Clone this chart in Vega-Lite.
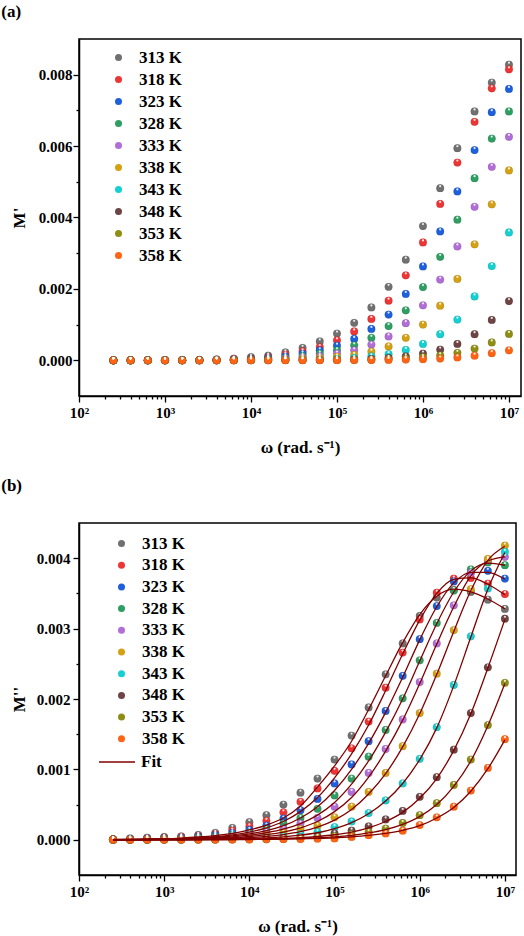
{
"$schema":"https://vega.github.io/schema/vega-lite/v6.json",
"background":"white",
"padding":{"left":0,"top":2,"right":2,"bottom":2},
"bounds":"flush",
"spacing":127,
"resolve":{"scale":{"color":"independent","stroke":"independent"},"legend":{"color":"independent","stroke":"independent"}},
"config":{
 "font":"Liberation Serif",
 "view":{"stroke":"black","strokeWidth":1.5},
 "axis":{"grid":false,"labelFont":"Liberation Serif","labelFontWeight":"bold","labelFontSize":15,"labelColor":"black","titleFont":"Liberation Serif","titleFontWeight":"bold","titleFontSize":17,"titleColor":"black","domainColor":"black","domainWidth":1.5,"tickColor":"black","tickWidth":1.3,"labelOverlap":false,"labelFlush":false},
 "legend":{"labelFont":"Liberation Serif","labelFontWeight":"bold","labelFontSize":17,"labelColor":"black","padding":0,"rowPadding":4},
 "title":{"font":"Liberation Serif","fontWeight":"bold","fontSize":17,"color":"black","anchor":"start","frame":"bounds"}
},
"datasets":{
"mp":[
{"w":251.2,"T":"313 K","v":0.001e-3},{"w":398.1,"T":"313 K","v":0.002e-3},{"w":631,"T":"313 K","v":0.003e-3},{"w":1000,"T":"313 K","v":0.004e-3},{"w":1585,"T":"313 K","v":0.006e-3},{"w":2512,"T":"313 K","v":0.01e-3},{"w":3981,"T":"313 K","v":0.025e-3},{"w":6310,"T":"313 K","v":0.05e-3},{"w":1e4,"T":"313 K","v":0.09e-3},{"w":15850,"T":"313 K","v":0.13e-3},{"w":25120,"T":"313 K","v":0.22e-3},{"w":39810,"T":"313 K","v":0.35e-3},{"w":63100,"T":"313 K","v":0.53e-3},{"w":1e5,"T":"313 K","v":0.75e-3},{"w":158500,"T":"313 K","v":1.05e-3},{"w":251200,"T":"313 K","v":1.48e-3},{"w":398100,"T":"313 K","v":2.06e-3},{"w":631000,"T":"313 K","v":2.82e-3},{"w":1e6,"T":"313 K","v":3.76e-3},{"w":1585000,"T":"313 K","v":4.82e-3},{"w":2512000,"T":"313 K","v":5.94e-3},{"w":3981000,"T":"313 K","v":6.97e-3},{"w":6310000,"T":"313 K","v":7.78e-3},{"w":1e7,"T":"313 K","v":8.28e-3},
{"w":251.2,"T":"318 K","v":0.001e-3},{"w":398.1,"T":"318 K","v":0.001e-3},{"w":631,"T":"318 K","v":0.002e-3},{"w":1000,"T":"318 K","v":0.003e-3},{"w":1585,"T":"318 K","v":0.004e-3},{"w":2512,"T":"318 K","v":0.007e-3},{"w":3981,"T":"318 K","v":0.015e-3},{"w":6310,"T":"318 K","v":0.03e-3},{"w":1e4,"T":"318 K","v":0.05e-3},{"w":15850,"T":"318 K","v":0.09e-3},{"w":25120,"T":"318 K","v":0.16e-3},{"w":39810,"T":"318 K","v":0.25e-3},{"w":63100,"T":"318 K","v":0.37e-3},{"w":1e5,"T":"318 K","v":0.56e-3},{"w":158500,"T":"318 K","v":0.81e-3},{"w":251200,"T":"318 K","v":1.16e-3},{"w":398100,"T":"318 K","v":1.67e-3},{"w":631000,"T":"318 K","v":2.38e-3},{"w":1e6,"T":"318 K","v":3.30e-3},{"w":1585000,"T":"318 K","v":4.38e-3},{"w":2512000,"T":"318 K","v":5.54e-3},{"w":3981000,"T":"318 K","v":6.68e-3},{"w":6310000,"T":"318 K","v":7.62e-3},{"w":1e7,"T":"318 K","v":8.15e-3},
{"w":251.2,"T":"323 K","v":0},{"w":398.1,"T":"323 K","v":0.001e-3},{"w":631,"T":"323 K","v":0.001e-3},{"w":1000,"T":"323 K","v":0.002e-3},{"w":1585,"T":"323 K","v":0.003e-3},{"w":2512,"T":"323 K","v":0.005e-3},{"w":3981,"T":"323 K","v":0.01e-3},{"w":6310,"T":"323 K","v":0.018e-3},{"w":1e4,"T":"323 K","v":0.033e-3},{"w":15850,"T":"323 K","v":0.06e-3},{"w":25120,"T":"323 K","v":0.11e-3},{"w":39810,"T":"323 K","v":0.19e-3},{"w":63100,"T":"323 K","v":0.28e-3},{"w":1e5,"T":"323 K","v":0.41e-3},{"w":158500,"T":"323 K","v":0.60e-3},{"w":251200,"T":"323 K","v":0.88e-3},{"w":398100,"T":"323 K","v":1.28e-3},{"w":631000,"T":"323 K","v":1.86e-3},{"w":1e6,"T":"323 K","v":2.63e-3},{"w":1585000,"T":"323 K","v":3.61e-3},{"w":2512000,"T":"323 K","v":4.73e-3},{"w":3981000,"T":"323 K","v":5.89e-3},{"w":6310000,"T":"323 K","v":6.95e-3},{"w":1e7,"T":"323 K","v":7.60e-3},
{"w":251.2,"T":"328 K","v":0},{"w":398.1,"T":"328 K","v":0.001e-3},{"w":631,"T":"328 K","v":0.001e-3},{"w":1000,"T":"328 K","v":0.001e-3},{"w":1585,"T":"328 K","v":0.002e-3},{"w":2512,"T":"328 K","v":0.004e-3},{"w":3981,"T":"328 K","v":0.007e-3},{"w":6310,"T":"328 K","v":0.012e-3},{"w":1e4,"T":"328 K","v":0.022e-3},{"w":15850,"T":"328 K","v":0.04e-3},{"w":25120,"T":"328 K","v":0.07e-3},{"w":39810,"T":"328 K","v":0.12e-3},{"w":63100,"T":"328 K","v":0.19e-3},{"w":1e5,"T":"328 K","v":0.28e-3},{"w":158500,"T":"328 K","v":0.42e-3},{"w":251200,"T":"328 K","v":0.63e-3},{"w":398100,"T":"328 K","v":0.96e-3},{"w":631000,"T":"328 K","v":1.40e-3},{"w":1e6,"T":"328 K","v":2.05e-3},{"w":1585000,"T":"328 K","v":2.90e-3},{"w":2512000,"T":"328 K","v":3.94e-3},{"w":3981000,"T":"328 K","v":5.10e-3},{"w":6310000,"T":"328 K","v":6.21e-3},{"w":1e7,"T":"328 K","v":6.97e-3},
{"w":251.2,"T":"333 K","v":0},{"w":398.1,"T":"333 K","v":0},{"w":631,"T":"333 K","v":0.001e-3},{"w":1000,"T":"333 K","v":0.001e-3},{"w":1585,"T":"333 K","v":0.002e-3},{"w":2512,"T":"333 K","v":0.003e-3},{"w":3981,"T":"333 K","v":0.005e-3},{"w":6310,"T":"333 K","v":0.008e-3},{"w":1e4,"T":"333 K","v":0.015e-3},{"w":15850,"T":"333 K","v":0.025e-3},{"w":25120,"T":"333 K","v":0.045e-3},{"w":39810,"T":"333 K","v":0.08e-3},{"w":63100,"T":"333 K","v":0.12e-3},{"w":1e5,"T":"333 K","v":0.19e-3},{"w":158500,"T":"333 K","v":0.28e-3},{"w":251200,"T":"333 K","v":0.44e-3},{"w":398100,"T":"333 K","v":0.67e-3},{"w":631000,"T":"333 K","v":1.04e-3},{"w":1e6,"T":"333 K","v":1.54e-3},{"w":1585000,"T":"333 K","v":2.26e-3},{"w":2512000,"T":"333 K","v":3.19e-3},{"w":3981000,"T":"333 K","v":4.30e-3},{"w":6310000,"T":"333 K","v":5.42e-3},{"w":1e7,"T":"333 K","v":6.26e-3},
{"w":251.2,"T":"338 K","v":0},{"w":398.1,"T":"338 K","v":0},{"w":631,"T":"338 K","v":0},{"w":1000,"T":"338 K","v":0.001e-3},{"w":1585,"T":"338 K","v":0.001e-3},{"w":2512,"T":"338 K","v":0.002e-3},{"w":3981,"T":"338 K","v":0.003e-3},{"w":6310,"T":"338 K","v":0.005e-3},{"w":1e4,"T":"338 K","v":0.009e-3},{"w":15850,"T":"338 K","v":0.015e-3},{"w":25120,"T":"338 K","v":0.025e-3},{"w":39810,"T":"338 K","v":0.045e-3},{"w":63100,"T":"338 K","v":0.07e-3},{"w":1e5,"T":"338 K","v":0.10e-3},{"w":158500,"T":"338 K","v":0.15e-3},{"w":251200,"T":"338 K","v":0.24e-3},{"w":398100,"T":"338 K","v":0.39e-3},{"w":631000,"T":"338 K","v":0.63e-3},{"w":1e6,"T":"338 K","v":1.00e-3},{"w":1585000,"T":"338 K","v":1.53e-3},{"w":2512000,"T":"338 K","v":2.28e-3},{"w":3981000,"T":"338 K","v":3.25e-3},{"w":6310000,"T":"338 K","v":4.37e-3},{"w":1e7,"T":"338 K","v":5.32e-3},
{"w":251.2,"T":"343 K","v":0},{"w":398.1,"T":"343 K","v":0},{"w":631,"T":"343 K","v":0},{"w":1000,"T":"343 K","v":0},{"w":1585,"T":"343 K","v":0.001e-3},{"w":2512,"T":"343 K","v":0.001e-3},{"w":3981,"T":"343 K","v":0.002e-3},{"w":6310,"T":"343 K","v":0.003e-3},{"w":1e4,"T":"343 K","v":0.005e-3},{"w":15850,"T":"343 K","v":0.008e-3},{"w":25120,"T":"343 K","v":0.012e-3},{"w":39810,"T":"343 K","v":0.015e-3},{"w":63100,"T":"343 K","v":0.025e-3},{"w":1e5,"T":"343 K","v":0.04e-3},{"w":158500,"T":"343 K","v":0.07e-3},{"w":251200,"T":"343 K","v":0.11e-3},{"w":398100,"T":"343 K","v":0.17e-3},{"w":631000,"T":"343 K","v":0.29e-3},{"w":1e6,"T":"343 K","v":0.46e-3},{"w":1585000,"T":"343 K","v":0.73e-3},{"w":2512000,"T":"343 K","v":1.14e-3},{"w":3981000,"T":"343 K","v":1.79e-3},{"w":6310000,"T":"343 K","v":2.64e-3},{"w":1e7,"T":"343 K","v":3.58e-3},
{"w":251.2,"T":"348 K","v":0},{"w":398.1,"T":"348 K","v":0},{"w":631,"T":"348 K","v":0},{"w":1000,"T":"348 K","v":0},{"w":1585,"T":"348 K","v":0},{"w":2512,"T":"348 K","v":0.001e-3},{"w":3981,"T":"348 K","v":0.001e-3},{"w":6310,"T":"348 K","v":0.002e-3},{"w":1e4,"T":"348 K","v":0.003e-3},{"w":15850,"T":"348 K","v":0.004e-3},{"w":25120,"T":"348 K","v":0.006e-3},{"w":39810,"T":"348 K","v":0.008e-3},{"w":63100,"T":"348 K","v":0.011e-3},{"w":1e5,"T":"348 K","v":0.015e-3},{"w":158500,"T":"348 K","v":0.025e-3},{"w":251200,"T":"348 K","v":0.04e-3},{"w":398100,"T":"348 K","v":0.07e-3},{"w":631000,"T":"348 K","v":0.11e-3},{"w":1e6,"T":"348 K","v":0.19e-3},{"w":1585000,"T":"348 K","v":0.30e-3},{"w":2512000,"T":"348 K","v":0.46e-3},{"w":3981000,"T":"348 K","v":0.73e-3},{"w":6310000,"T":"348 K","v":1.13e-3},{"w":1e7,"T":"348 K","v":1.66e-3},
{"w":251.2,"T":"353 K","v":0},{"w":398.1,"T":"353 K","v":0},{"w":631,"T":"353 K","v":0},{"w":1000,"T":"353 K","v":0},{"w":1585,"T":"353 K","v":0},{"w":2512,"T":"353 K","v":0},{"w":3981,"T":"353 K","v":0.001e-3},{"w":6310,"T":"353 K","v":0.001e-3},{"w":1e4,"T":"353 K","v":0.002e-3},{"w":15850,"T":"353 K","v":0.002e-3},{"w":25120,"T":"353 K","v":0.003e-3},{"w":39810,"T":"353 K","v":0.004e-3},{"w":63100,"T":"353 K","v":0.006e-3},{"w":1e5,"T":"353 K","v":0.008e-3},{"w":158500,"T":"353 K","v":0.011e-3},{"w":251200,"T":"353 K","v":0.015e-3},{"w":398100,"T":"353 K","v":0.03e-3},{"w":631000,"T":"353 K","v":0.05e-3},{"w":1e6,"T":"353 K","v":0.09e-3},{"w":1585000,"T":"353 K","v":0.14e-3},{"w":2512000,"T":"353 K","v":0.21e-3},{"w":3981000,"T":"353 K","v":0.33e-3},{"w":6310000,"T":"353 K","v":0.50e-3},{"w":1e7,"T":"353 K","v":0.74e-3},
{"w":251.2,"T":"358 K","v":0},{"w":398.1,"T":"358 K","v":0},{"w":631,"T":"358 K","v":0},{"w":1000,"T":"358 K","v":0},{"w":1585,"T":"358 K","v":0},{"w":2512,"T":"358 K","v":0},{"w":3981,"T":"358 K","v":0},{"w":6310,"T":"358 K","v":0.001e-3},{"w":1e4,"T":"358 K","v":0.001e-3},{"w":15850,"T":"358 K","v":0.001e-3},{"w":25120,"T":"358 K","v":0.002e-3},{"w":39810,"T":"358 K","v":0.002e-3},{"w":63100,"T":"358 K","v":0.003e-3},{"w":1e5,"T":"358 K","v":0.004e-3},{"w":158500,"T":"358 K","v":0.006e-3},{"w":251200,"T":"358 K","v":0.008e-3},{"w":398100,"T":"358 K","v":0.01e-3},{"w":631000,"T":"358 K","v":0.02e-3},{"w":1e6,"T":"358 K","v":0.03e-3},{"w":1585000,"T":"358 K","v":0.05e-3},{"w":2512000,"T":"358 K","v":0.08e-3},{"w":3981000,"T":"358 K","v":0.13e-3},{"w":6310000,"T":"358 K","v":0.20e-3},{"w":1e7,"T":"358 K","v":0.28e-3}
],
"mpp":[
{"w":251.2,"T":"313 K","v":0.01e-3},{"w":398.1,"T":"313 K","v":0.02e-3},{"w":631,"T":"313 K","v":0.03e-3},{"w":1000,"T":"313 K","v":0.04e-3},{"w":1585,"T":"313 K","v":0.05e-3},{"w":2512,"T":"313 K","v":0.07e-3},{"w":3981,"T":"313 K","v":0.10e-3},{"w":6310,"T":"313 K","v":0.17e-3},{"w":1e4,"T":"313 K","v":0.25e-3},{"w":15850,"T":"313 K","v":0.35e-3},{"w":25120,"T":"313 K","v":0.50e-3},{"w":39810,"T":"313 K","v":0.67e-3},{"w":63100,"T":"313 K","v":0.87e-3},{"w":1e5,"T":"313 K","v":1.14e-3},{"w":158500,"T":"313 K","v":1.48e-3},{"w":251200,"T":"313 K","v":1.88e-3},{"w":398100,"T":"313 K","v":2.35e-3},{"w":631000,"T":"313 K","v":2.79e-3},{"w":1e6,"T":"313 K","v":3.18e-3},{"w":1585000,"T":"313 K","v":3.44e-3},{"w":2512000,"T":"313 K","v":3.55e-3},{"w":3981000,"T":"313 K","v":3.52e-3},{"w":6310000,"T":"313 K","v":3.41e-3},{"w":1e7,"T":"313 K","v":3.28e-3},
{"w":251.2,"T":"318 K","v":0.005e-3},{"w":398.1,"T":"318 K","v":0.01e-3},{"w":631,"T":"318 K","v":0.02e-3},{"w":1000,"T":"318 K","v":0.03e-3},{"w":1585,"T":"318 K","v":0.04e-3},{"w":2512,"T":"318 K","v":0.055e-3},{"w":3981,"T":"318 K","v":0.08e-3},{"w":6310,"T":"318 K","v":0.13e-3},{"w":1e4,"T":"318 K","v":0.19e-3},{"w":15850,"T":"318 K","v":0.27e-3},{"w":25120,"T":"318 K","v":0.39e-3},{"w":39810,"T":"318 K","v":0.54e-3},{"w":63100,"T":"318 K","v":0.73e-3},{"w":1e5,"T":"318 K","v":0.98e-3},{"w":158500,"T":"318 K","v":1.30e-3},{"w":251200,"T":"318 K","v":1.68e-3},{"w":398100,"T":"318 K","v":2.16e-3},{"w":631000,"T":"318 K","v":2.66e-3},{"w":1e6,"T":"318 K","v":3.13e-3},{"w":1585000,"T":"318 K","v":3.51e-3},{"w":2512000,"T":"318 K","v":3.71e-3},{"w":3981000,"T":"318 K","v":3.72e-3},{"w":6310000,"T":"318 K","v":3.64e-3},{"w":1e7,"T":"318 K","v":3.49e-3},
{"w":251.2,"T":"323 K","v":0.005e-3},{"w":398.1,"T":"323 K","v":0.008e-3},{"w":631,"T":"323 K","v":0.015e-3},{"w":1000,"T":"323 K","v":0.02e-3},{"w":1585,"T":"323 K","v":0.03e-3},{"w":2512,"T":"323 K","v":0.045e-3},{"w":3981,"T":"323 K","v":0.065e-3},{"w":6310,"T":"323 K","v":0.10e-3},{"w":1e4,"T":"323 K","v":0.14e-3},{"w":15850,"T":"323 K","v":0.20e-3},{"w":25120,"T":"323 K","v":0.30e-3},{"w":39810,"T":"323 K","v":0.42e-3},{"w":63100,"T":"323 K","v":0.58e-3},{"w":1e5,"T":"323 K","v":0.80e-3},{"w":158500,"T":"323 K","v":1.07e-3},{"w":251200,"T":"323 K","v":1.40e-3},{"w":398100,"T":"323 K","v":1.83e-3},{"w":631000,"T":"323 K","v":2.33e-3},{"w":1e6,"T":"323 K","v":2.85e-3},{"w":1585000,"T":"323 K","v":3.32e-3},{"w":2512000,"T":"323 K","v":3.67e-3},{"w":3981000,"T":"323 K","v":3.80e-3},{"w":6310000,"T":"323 K","v":3.82e-3},{"w":1e7,"T":"323 K","v":3.71e-3},
{"w":251.2,"T":"328 K","v":0.004e-3},{"w":398.1,"T":"328 K","v":0.006e-3},{"w":631,"T":"328 K","v":0.01e-3},{"w":1000,"T":"328 K","v":0.015e-3},{"w":1585,"T":"328 K","v":0.02e-3},{"w":2512,"T":"328 K","v":0.03e-3},{"w":3981,"T":"328 K","v":0.045e-3},{"w":6310,"T":"328 K","v":0.07e-3},{"w":1e4,"T":"328 K","v":0.10e-3},{"w":15850,"T":"328 K","v":0.15e-3},{"w":25120,"T":"328 K","v":0.23e-3},{"w":39810,"T":"328 K","v":0.31e-3},{"w":63100,"T":"328 K","v":0.44e-3},{"w":1e5,"T":"328 K","v":0.63e-3},{"w":158500,"T":"328 K","v":0.87e-3},{"w":251200,"T":"328 K","v":1.18e-3},{"w":398100,"T":"328 K","v":1.56e-3},{"w":631000,"T":"328 K","v":2.01e-3},{"w":1e6,"T":"328 K","v":2.55e-3},{"w":1585000,"T":"328 K","v":3.08e-3},{"w":2512000,"T":"328 K","v":3.54e-3},{"w":3981000,"T":"328 K","v":3.84e-3},{"w":6310000,"T":"328 K","v":3.94e-3},{"w":1e7,"T":"328 K","v":3.90e-3},
{"w":251.2,"T":"333 K","v":0.003e-3},{"w":398.1,"T":"333 K","v":0.005e-3},{"w":631,"T":"333 K","v":0.008e-3},{"w":1000,"T":"333 K","v":0.01e-3},{"w":1585,"T":"333 K","v":0.015e-3},{"w":2512,"T":"333 K","v":0.02e-3},{"w":3981,"T":"333 K","v":0.03e-3},{"w":6310,"T":"333 K","v":0.05e-3},{"w":1e4,"T":"333 K","v":0.07e-3},{"w":15850,"T":"333 K","v":0.11e-3},{"w":25120,"T":"333 K","v":0.16e-3},{"w":39810,"T":"333 K","v":0.23e-3},{"w":63100,"T":"333 K","v":0.31e-3},{"w":1e5,"T":"333 K","v":0.47e-3},{"w":158500,"T":"333 K","v":0.68e-3},{"w":251200,"T":"333 K","v":0.95e-3},{"w":398100,"T":"333 K","v":1.29e-3},{"w":631000,"T":"333 K","v":1.71e-3},{"w":1e6,"T":"333 K","v":2.24e-3},{"w":1585000,"T":"333 K","v":2.79e-3},{"w":2512000,"T":"333 K","v":3.33e-3},{"w":3981000,"T":"333 K","v":3.79e-3},{"w":6310000,"T":"333 K","v":3.97e-3},{"w":1e7,"T":"333 K","v":4.02e-3},
{"w":251.2,"T":"338 K","v":0.002e-3},{"w":398.1,"T":"338 K","v":0.004e-3},{"w":631,"T":"338 K","v":0.006e-3},{"w":1000,"T":"338 K","v":0.008e-3},{"w":1585,"T":"338 K","v":0.01e-3},{"w":2512,"T":"338 K","v":0.015e-3},{"w":3981,"T":"338 K","v":0.02e-3},{"w":6310,"T":"338 K","v":0.03e-3},{"w":1e4,"T":"338 K","v":0.045e-3},{"w":15850,"T":"338 K","v":0.07e-3},{"w":25120,"T":"338 K","v":0.11e-3},{"w":39810,"T":"338 K","v":0.15e-3},{"w":63100,"T":"338 K","v":0.20e-3},{"w":1e5,"T":"338 K","v":0.32e-3},{"w":158500,"T":"338 K","v":0.47e-3},{"w":251200,"T":"338 K","v":0.68e-3},{"w":398100,"T":"338 K","v":0.95e-3},{"w":631000,"T":"338 K","v":1.33e-3},{"w":1e6,"T":"338 K","v":1.80e-3},{"w":1585000,"T":"338 K","v":2.36e-3},{"w":2512000,"T":"338 K","v":2.98e-3},{"w":3981000,"T":"338 K","v":3.56e-3},{"w":6310000,"T":"338 K","v":3.99e-3},{"w":1e7,"T":"338 K","v":4.18e-3},
{"w":251.2,"T":"343 K","v":0.002e-3},{"w":398.1,"T":"343 K","v":0.003e-3},{"w":631,"T":"343 K","v":0.004e-3},{"w":1000,"T":"343 K","v":0.005e-3},{"w":1585,"T":"343 K","v":0.006e-3},{"w":2512,"T":"343 K","v":0.008e-3},{"w":3981,"T":"343 K","v":0.01e-3},{"w":6310,"T":"343 K","v":0.015e-3},{"w":1e4,"T":"343 K","v":0.02e-3},{"w":15850,"T":"343 K","v":0.03e-3},{"w":25120,"T":"343 K","v":0.05e-3},{"w":39810,"T":"343 K","v":0.08e-3},{"w":63100,"T":"343 K","v":0.11e-3},{"w":1e5,"T":"343 K","v":0.18e-3},{"w":158500,"T":"343 K","v":0.26e-3},{"w":251200,"T":"343 K","v":0.38e-3},{"w":398100,"T":"343 K","v":0.56e-3},{"w":631000,"T":"343 K","v":0.80e-3},{"w":1e6,"T":"343 K","v":1.15e-3},{"w":1585000,"T":"343 K","v":1.60e-3},{"w":2512000,"T":"343 K","v":2.20e-3},{"w":3981000,"T":"343 K","v":2.89e-3},{"w":6310000,"T":"343 K","v":3.57e-3},{"w":1e7,"T":"343 K","v":4.09e-3},
{"w":251.2,"T":"348 K","v":0.001e-3},{"w":398.1,"T":"348 K","v":0.002e-3},{"w":631,"T":"348 K","v":0.002e-3},{"w":1000,"T":"348 K","v":0.003e-3},{"w":1585,"T":"348 K","v":0.004e-3},{"w":2512,"T":"348 K","v":0.005e-3},{"w":3981,"T":"348 K","v":0.006e-3},{"w":6310,"T":"348 K","v":0.008e-3},{"w":1e4,"T":"348 K","v":0.01e-3},{"w":15850,"T":"348 K","v":0.015e-3},{"w":25120,"T":"348 K","v":0.02e-3},{"w":39810,"T":"348 K","v":0.035e-3},{"w":63100,"T":"348 K","v":0.05e-3},{"w":1e5,"T":"348 K","v":0.09e-3},{"w":158500,"T":"348 K","v":0.13e-3},{"w":251200,"T":"348 K","v":0.19e-3},{"w":398100,"T":"348 K","v":0.29e-3},{"w":631000,"T":"348 K","v":0.41e-3},{"w":1e6,"T":"348 K","v":0.61e-3},{"w":1585000,"T":"348 K","v":0.89e-3},{"w":2512000,"T":"348 K","v":1.28e-3},{"w":3981000,"T":"348 K","v":1.80e-3},{"w":6310000,"T":"348 K","v":2.45e-3},{"w":1e7,"T":"348 K","v":3.14e-3},
{"w":251.2,"T":"353 K","v":0.001e-3},{"w":398.1,"T":"353 K","v":0.001e-3},{"w":631,"T":"353 K","v":0.002e-3},{"w":1000,"T":"353 K","v":0.002e-3},{"w":1585,"T":"353 K","v":0.003e-3},{"w":2512,"T":"353 K","v":0.003e-3},{"w":3981,"T":"353 K","v":0.004e-3},{"w":6310,"T":"353 K","v":0.005e-3},{"w":1e4,"T":"353 K","v":0.007e-3},{"w":15850,"T":"353 K","v":0.01e-3},{"w":25120,"T":"353 K","v":0.015e-3},{"w":39810,"T":"353 K","v":0.02e-3},{"w":63100,"T":"353 K","v":0.03e-3},{"w":1e5,"T":"353 K","v":0.05e-3},{"w":158500,"T":"353 K","v":0.08e-3},{"w":251200,"T":"353 K","v":0.11e-3},{"w":398100,"T":"353 K","v":0.16e-3},{"w":631000,"T":"353 K","v":0.24e-3},{"w":1e6,"T":"353 K","v":0.35e-3},{"w":1585000,"T":"353 K","v":0.52e-3},{"w":2512000,"T":"353 K","v":0.78e-3},{"w":3981000,"T":"353 K","v":1.14e-3},{"w":6310000,"T":"353 K","v":1.63e-3},{"w":1e7,"T":"353 K","v":2.23e-3},
{"w":251.2,"T":"358 K","v":0.001e-3},{"w":398.1,"T":"358 K","v":0.001e-3},{"w":631,"T":"358 K","v":0.001e-3},{"w":1000,"T":"358 K","v":0.002e-3},{"w":1585,"T":"358 K","v":0.002e-3},{"w":2512,"T":"358 K","v":0.002e-3},{"w":3981,"T":"358 K","v":0.003e-3},{"w":6310,"T":"358 K","v":0.004e-3},{"w":1e4,"T":"358 K","v":0.005e-3},{"w":15850,"T":"358 K","v":0.007e-3},{"w":25120,"T":"358 K","v":0.009e-3},{"w":39810,"T":"358 K","v":0.01e-3},{"w":63100,"T":"358 K","v":0.015e-3},{"w":1e5,"T":"358 K","v":0.02e-3},{"w":158500,"T":"358 K","v":0.04e-3},{"w":251200,"T":"358 K","v":0.065e-3},{"w":398100,"T":"358 K","v":0.09e-3},{"w":631000,"T":"358 K","v":0.13e-3},{"w":1e6,"T":"358 K","v":0.21e-3},{"w":1585000,"T":"358 K","v":0.32e-3},{"w":2512000,"T":"358 K","v":0.47e-3},{"w":3981000,"T":"358 K","v":0.70e-3},{"w":6310000,"T":"358 K","v":1.02e-3},{"w":1e7,"T":"358 K","v":1.43e-3}
],
"fit":[
{"w":251.2,"T":"313 K","v":0.004e-3},{"w":398.1,"T":"313 K","v":0.006e-3},{"w":631,"T":"313 K","v":0.01e-3},{"w":1000,"T":"313 K","v":0.015e-3},{"w":1585,"T":"313 K","v":0.025e-3},{"w":2512,"T":"313 K","v":0.04e-3},{"w":3981,"T":"313 K","v":0.06e-3},{"w":6310,"T":"313 K","v":0.09e-3},{"w":1e4,"T":"313 K","v":0.14e-3},{"w":15850,"T":"313 K","v":0.21e-3},{"w":25120,"T":"313 K","v":0.31e-3},{"w":39810,"T":"313 K","v":0.48e-3},{"w":63100,"T":"313 K","v":0.75e-3},{"w":1e5,"T":"313 K","v":1.05e-3},{"w":158500,"T":"313 K","v":1.40e-3},{"w":251200,"T":"313 K","v":1.85e-3},{"w":398100,"T":"313 K","v":2.33e-3},{"w":631000,"T":"313 K","v":2.80e-3},{"w":1e6,"T":"313 K","v":3.20e-3},{"w":1585000,"T":"313 K","v":3.46e-3},{"w":2512000,"T":"313 K","v":3.56e-3},{"w":3981000,"T":"313 K","v":3.52e-3},{"w":6310000,"T":"313 K","v":3.42e-3},{"w":1e7,"T":"313 K","v":3.28e-3},
{"w":251.2,"T":"318 K","v":0.003e-3},{"w":398.1,"T":"318 K","v":0.005e-3},{"w":631,"T":"318 K","v":0.008e-3},{"w":1000,"T":"318 K","v":0.012e-3},{"w":1585,"T":"318 K","v":0.02e-3},{"w":2512,"T":"318 K","v":0.03e-3},{"w":3981,"T":"318 K","v":0.045e-3},{"w":6310,"T":"318 K","v":0.07e-3},{"w":1e4,"T":"318 K","v":0.11e-3},{"w":15850,"T":"318 K","v":0.17e-3},{"w":25120,"T":"318 K","v":0.26e-3},{"w":39810,"T":"318 K","v":0.40e-3},{"w":63100,"T":"318 K","v":0.60e-3},{"w":1e5,"T":"318 K","v":0.88e-3},{"w":158500,"T":"318 K","v":1.22e-3},{"w":251200,"T":"318 K","v":1.63e-3},{"w":398100,"T":"318 K","v":2.12e-3},{"w":631000,"T":"318 K","v":2.64e-3},{"w":1e6,"T":"318 K","v":3.12e-3},{"w":1585000,"T":"318 K","v":3.50e-3},{"w":2512000,"T":"318 K","v":3.70e-3},{"w":3981000,"T":"318 K","v":3.72e-3},{"w":6310000,"T":"318 K","v":3.63e-3},{"w":1e7,"T":"318 K","v":3.48e-3},
{"w":251.2,"T":"323 K","v":0.002e-3},{"w":398.1,"T":"323 K","v":0.004e-3},{"w":631,"T":"323 K","v":0.006e-3},{"w":1000,"T":"323 K","v":0.01e-3},{"w":1585,"T":"323 K","v":0.015e-3},{"w":2512,"T":"323 K","v":0.022e-3},{"w":3981,"T":"323 K","v":0.035e-3},{"w":6310,"T":"323 K","v":0.055e-3},{"w":1e4,"T":"323 K","v":0.085e-3},{"w":15850,"T":"323 K","v":0.13e-3},{"w":25120,"T":"323 K","v":0.20e-3},{"w":39810,"T":"323 K","v":0.31e-3},{"w":63100,"T":"323 K","v":0.47e-3},{"w":1e5,"T":"323 K","v":0.70e-3},{"w":158500,"T":"323 K","v":1.00e-3},{"w":251200,"T":"323 K","v":1.37e-3},{"w":398100,"T":"323 K","v":1.81e-3},{"w":631000,"T":"323 K","v":2.31e-3},{"w":1e6,"T":"323 K","v":2.84e-3},{"w":1585000,"T":"323 K","v":3.31e-3},{"w":2512000,"T":"323 K","v":3.65e-3},{"w":3981000,"T":"323 K","v":3.80e-3},{"w":6310000,"T":"323 K","v":3.80e-3},{"w":1e7,"T":"323 K","v":3.70e-3},
{"w":251.2,"T":"328 K","v":0.002e-3},{"w":398.1,"T":"328 K","v":0.003e-3},{"w":631,"T":"328 K","v":0.005e-3},{"w":1000,"T":"328 K","v":0.008e-3},{"w":1585,"T":"328 K","v":0.012e-3},{"w":2512,"T":"328 K","v":0.018e-3},{"w":3981,"T":"328 K","v":0.027e-3},{"w":6310,"T":"328 K","v":0.042e-3},{"w":1e4,"T":"328 K","v":0.065e-3},{"w":15850,"T":"328 K","v":0.10e-3},{"w":25120,"T":"328 K","v":0.15e-3},{"w":39810,"T":"328 K","v":0.23e-3},{"w":63100,"T":"328 K","v":0.35e-3},{"w":1e5,"T":"328 K","v":0.53e-3},{"w":158500,"T":"328 K","v":0.79e-3},{"w":251200,"T":"328 K","v":1.12e-3},{"w":398100,"T":"328 K","v":1.53e-3},{"w":631000,"T":"328 K","v":2.00e-3},{"w":1e6,"T":"328 K","v":2.54e-3},{"w":1585000,"T":"328 K","v":3.07e-3},{"w":2512000,"T":"328 K","v":3.52e-3},{"w":3981000,"T":"328 K","v":3.82e-3},{"w":6310000,"T":"328 K","v":3.93e-3},{"w":1e7,"T":"328 K","v":3.90e-3},
{"w":251.2,"T":"333 K","v":0.001e-3},{"w":398.1,"T":"333 K","v":0.002e-3},{"w":631,"T":"333 K","v":0.004e-3},{"w":1000,"T":"333 K","v":0.006e-3},{"w":1585,"T":"333 K","v":0.009e-3},{"w":2512,"T":"333 K","v":0.013e-3},{"w":3981,"T":"333 K","v":0.02e-3},{"w":6310,"T":"333 K","v":0.03e-3},{"w":1e4,"T":"333 K","v":0.047e-3},{"w":15850,"T":"333 K","v":0.073e-3},{"w":25120,"T":"333 K","v":0.11e-3},{"w":39810,"T":"333 K","v":0.17e-3},{"w":63100,"T":"333 K","v":0.26e-3},{"w":1e5,"T":"333 K","v":0.40e-3},{"w":158500,"T":"333 K","v":0.60e-3},{"w":251200,"T":"333 K","v":0.89e-3},{"w":398100,"T":"333 K","v":1.26e-3},{"w":631000,"T":"333 K","v":1.70e-3},{"w":1e6,"T":"333 K","v":2.22e-3},{"w":1585000,"T":"333 K","v":2.78e-3},{"w":2512000,"T":"333 K","v":3.31e-3},{"w":3981000,"T":"333 K","v":3.75e-3},{"w":6310000,"T":"333 K","v":3.96e-3},{"w":1e7,"T":"333 K","v":4.02e-3},
{"w":251.2,"T":"338 K","v":0.001e-3},{"w":398.1,"T":"338 K","v":0.002e-3},{"w":631,"T":"338 K","v":0.003e-3},{"w":1000,"T":"338 K","v":0.004e-3},{"w":1585,"T":"338 K","v":0.006e-3},{"w":2512,"T":"338 K","v":0.009e-3},{"w":3981,"T":"338 K","v":0.013e-3},{"w":6310,"T":"338 K","v":0.02e-3},{"w":1e4,"T":"338 K","v":0.031e-3},{"w":15850,"T":"338 K","v":0.048e-3},{"w":25120,"T":"338 K","v":0.075e-3},{"w":39810,"T":"338 K","v":0.115e-3},{"w":63100,"T":"338 K","v":0.18e-3},{"w":1e5,"T":"338 K","v":0.28e-3},{"w":158500,"T":"338 K","v":0.43e-3},{"w":251200,"T":"338 K","v":0.65e-3},{"w":398100,"T":"338 K","v":0.94e-3},{"w":631000,"T":"338 K","v":1.32e-3},{"w":1e6,"T":"338 K","v":1.79e-3},{"w":1585000,"T":"338 K","v":2.35e-3},{"w":2512000,"T":"338 K","v":2.96e-3},{"w":3981000,"T":"338 K","v":3.54e-3},{"w":6310000,"T":"338 K","v":3.97e-3},{"w":1e7,"T":"338 K","v":4.17e-3},
{"w":251.2,"T":"343 K","v":0.001e-3},{"w":398.1,"T":"343 K","v":0.001e-3},{"w":631,"T":"343 K","v":0.002e-3},{"w":1000,"T":"343 K","v":0.003e-3},{"w":1585,"T":"343 K","v":0.004e-3},{"w":2512,"T":"343 K","v":0.005e-3},{"w":3981,"T":"343 K","v":0.008e-3},{"w":6310,"T":"343 K","v":0.012e-3},{"w":1e4,"T":"343 K","v":0.018e-3},{"w":15850,"T":"343 K","v":0.028e-3},{"w":25120,"T":"343 K","v":0.043e-3},{"w":39810,"T":"343 K","v":0.066e-3},{"w":63100,"T":"343 K","v":0.10e-3},{"w":1e5,"T":"343 K","v":0.16e-3},{"w":158500,"T":"343 K","v":0.245e-3},{"w":251200,"T":"343 K","v":0.37e-3},{"w":398100,"T":"343 K","v":0.55e-3},{"w":631000,"T":"343 K","v":0.80e-3},{"w":1e6,"T":"343 K","v":1.14e-3},{"w":1585000,"T":"343 K","v":1.59e-3},{"w":2512000,"T":"343 K","v":2.19e-3},{"w":3981000,"T":"343 K","v":2.88e-3},{"w":6310000,"T":"343 K","v":3.56e-3},{"w":1e7,"T":"343 K","v":4.08e-3},
{"w":251.2,"T":"348 K","v":0},{"w":398.1,"T":"348 K","v":0.001e-3},{"w":631,"T":"348 K","v":0.001e-3},{"w":1000,"T":"348 K","v":0.002e-3},{"w":1585,"T":"348 K","v":0.002e-3},{"w":2512,"T":"348 K","v":0.003e-3},{"w":3981,"T":"348 K","v":0.004e-3},{"w":6310,"T":"348 K","v":0.006e-3},{"w":1e4,"T":"348 K","v":0.009e-3},{"w":15850,"T":"348 K","v":0.013e-3},{"w":25120,"T":"348 K","v":0.02e-3},{"w":39810,"T":"348 K","v":0.03e-3},{"w":63100,"T":"348 K","v":0.047e-3},{"w":1e5,"T":"348 K","v":0.072e-3},{"w":158500,"T":"348 K","v":0.11e-3},{"w":251200,"T":"348 K","v":0.17e-3},{"w":398100,"T":"348 K","v":0.26e-3},{"w":631000,"T":"348 K","v":0.39e-3},{"w":1e6,"T":"348 K","v":0.59e-3},{"w":1585000,"T":"348 K","v":0.87e-3},{"w":2512000,"T":"348 K","v":1.27e-3},{"w":3981000,"T":"348 K","v":1.79e-3},{"w":6310000,"T":"348 K","v":2.44e-3},{"w":1e7,"T":"348 K","v":3.13e-3},
{"w":251.2,"T":"353 K","v":0},{"w":398.1,"T":"353 K","v":0},{"w":631,"T":"353 K","v":0.001e-3},{"w":1000,"T":"353 K","v":0.001e-3},{"w":1585,"T":"353 K","v":0.001e-3},{"w":2512,"T":"353 K","v":0.002e-3},{"w":3981,"T":"353 K","v":0.003e-3},{"w":6310,"T":"353 K","v":0.004e-3},{"w":1e4,"T":"353 K","v":0.006e-3},{"w":15850,"T":"353 K","v":0.009e-3},{"w":25120,"T":"353 K","v":0.013e-3},{"w":39810,"T":"353 K","v":0.019e-3},{"w":63100,"T":"353 K","v":0.028e-3},{"w":1e5,"T":"353 K","v":0.042e-3},{"w":158500,"T":"353 K","v":0.064e-3},{"w":251200,"T":"353 K","v":0.097e-3},{"w":398100,"T":"353 K","v":0.145e-3},{"w":631000,"T":"353 K","v":0.22e-3},{"w":1e6,"T":"353 K","v":0.33e-3},{"w":1585000,"T":"353 K","v":0.50e-3},{"w":2512000,"T":"353 K","v":0.76e-3},{"w":3981000,"T":"353 K","v":1.12e-3},{"w":6310000,"T":"353 K","v":1.62e-3},{"w":1e7,"T":"353 K","v":2.22e-3},
{"w":251.2,"T":"358 K","v":0},{"w":398.1,"T":"358 K","v":0},{"w":631,"T":"358 K","v":0},{"w":1000,"T":"358 K","v":0.001e-3},{"w":1585,"T":"358 K","v":0.001e-3},{"w":2512,"T":"358 K","v":0.001e-3},{"w":3981,"T":"358 K","v":0.002e-3},{"w":6310,"T":"358 K","v":0.003e-3},{"w":1e4,"T":"358 K","v":0.004e-3},{"w":15850,"T":"358 K","v":0.006e-3},{"w":25120,"T":"358 K","v":0.009e-3},{"w":39810,"T":"358 K","v":0.013e-3},{"w":63100,"T":"358 K","v":0.019e-3},{"w":1e5,"T":"358 K","v":0.028e-3},{"w":158500,"T":"358 K","v":0.042e-3},{"w":251200,"T":"358 K","v":0.062e-3},{"w":398100,"T":"358 K","v":0.092e-3},{"w":631000,"T":"358 K","v":0.135e-3},{"w":1e6,"T":"358 K","v":0.20e-3},{"w":1585000,"T":"358 K","v":0.31e-3},{"w":2512000,"T":"358 K","v":0.46e-3},{"w":3981000,"T":"358 K","v":0.69e-3},{"w":6310000,"T":"358 K","v":1.01e-3},{"w":1e7,"T":"358 K","v":1.42e-3}
]
},
"vconcat":[
{
 "width":442,"height":357,
 "title":{"text":"(a)","dx":-9,"offset":18},
 "layer":[
  {"data":{"name":"mp"},
   "mark":{"type":"point","filled":true,"size":60,"opacity":1,"stroke":"#000000","strokeOpacity":0.15,"strokeWidth":0.6},
   "encoding":{
    "x":{"field":"w","type":"quantitative","scale":{"type":"log","domain":[100,13800000],"nice":false},
     "axis":{"title":"ω (rad. s⁻¹)","values":[100,200,300,400,500,600,700,800,900,1000,2000,3000,4000,5000,6000,7000,8000,9000,10000,20000,30000,40000,50000,60000,70000,80000,90000,100000,200000,300000,400000,500000,600000,700000,800000,900000,1000000,2000000,3000000,4000000,5000000,6000000,7000000,8000000,9000000,10000000],
      "labelExpr":"abs(log(datum.value)/LN10 - round(log(datum.value)/LN10)) < 0.01 ? '10' + ['⁰','¹','²','³','⁴','⁵','⁶','⁷','⁸'][round(log(datum.value)/LN10)] : ''",
      "tickSize":{"condition":{"test":"abs(log(datum.value)/LN10 - round(log(datum.value)/LN10)) < 0.01","value":6},"value":3},
      "labelPadding":3,"titlePadding":19}},
    "y":{"field":"v","type":"quantitative","scale":{"domain":[-0.001,0.009],"nice":false,"zero":false},
     "axis":{"title":"M'","values":[0,0.001,0.002,0.003,0.004,0.005,0.006,0.007,0.008],
      "labelExpr":"round(datum.value*1000) % 2 == 0 ? format(datum.value, '.3f') : ''",
      "tickSize":{"condition":{"test":"round(datum.value*1000) % 2 == 0","value":6},"value":3},
      "labelPadding":1,"titlePadding":10}},
    "color":{"field":"T","type":"nominal",
     "scale":{"domain":["313 K","318 K","323 K","328 K","333 K","338 K","343 K","348 K","353 K","358 K"],"range":["#707070","#ee3535","#1e5fdc","#2e9e62","#b06ed6","#d4a014","#14d0d0","#6e4444","#8e8e14","#ff6414"]},
     "legend":{"title":null,"orient":"none","legendX":31,"legendY":10,"symbolType":"circle","symbolSize":49,"labelOffset":12,"symbolStrokeWidth":0}}
   }},
  {"data":{"name":"mp"},
   "mark":{"type":"point","filled":true,"size":5,"color":"white","opacity":0.85,"yOffset":-2},
   "encoding":{"x":{"field":"w","type":"quantitative"},"y":{"field":"v","type":"quantitative"}}}
 ]
},
{
 "width":437,"height":352,
 "title":{"text":"(b)","dx":-9,"offset":28},
 "layer":[
  {"data":{"name":"mpp"},
   "mark":{"type":"point","filled":true,"size":60,"opacity":1,"stroke":"#000000","strokeOpacity":0.15,"strokeWidth":0.6},
   "encoding":{
    "x":{"field":"w","type":"quantitative","scale":{"type":"log","domain":[100,13500000],"nice":false},
     "axis":{"title":"ω (rad. s⁻¹)","values":[100,200,300,400,500,600,700,800,900,1000,2000,3000,4000,5000,6000,7000,8000,9000,10000,20000,30000,40000,50000,60000,70000,80000,90000,100000,200000,300000,400000,500000,600000,700000,800000,900000,1000000,2000000,3000000,4000000,5000000,6000000,7000000,8000000,9000000,10000000],
      "labelExpr":"abs(log(datum.value)/LN10 - round(log(datum.value)/LN10)) < 0.01 ? '10' + ['⁰','¹','²','³','⁴','⁵','⁶','⁷','⁸'][round(log(datum.value)/LN10)] : ''",
      "tickSize":{"condition":{"test":"abs(log(datum.value)/LN10 - round(log(datum.value)/LN10)) < 0.01","value":6},"value":3},
      "labelPadding":3,"titlePadding":19}},
    "y":{"field":"v","type":"quantitative","scale":{"domain":[-0.0005,0.0045],"nice":false,"zero":false},
     "axis":{"title":"M''","values":[0,0.0005,0.001,0.0015,0.002,0.0025,0.003,0.0035,0.004],
      "labelExpr":"round(datum.value*2000) % 2 == 0 ? format(datum.value, '.3f') : ''",
      "tickSize":{"condition":{"test":"round(datum.value*2000) % 2 == 0","value":6},"value":3},
      "labelPadding":3,"titlePadding":8}},
    "color":{"field":"T","type":"nominal",
     "scale":{"domain":["313 K","318 K","323 K","328 K","333 K","338 K","343 K","348 K","353 K","358 K"],"range":["#707070","#ee3535","#1e5fdc","#2e9e62","#b06ed6","#d4a014","#14d0d0","#6e4444","#8e8e14","#ff6414"]},
     "legend":{"title":null,"orient":"none","legendX":34,"legendY":12,"symbolType":"circle","symbolSize":49,"labelOffset":12,"rowPadding":3.7,"symbolStrokeWidth":0}}
   }},
  {"data":{"name":"mpp"},
   "mark":{"type":"point","filled":true,"size":5,"color":"white","opacity":0.85,"yOffset":-2},
   "encoding":{"x":{"field":"w","type":"quantitative"},"y":{"field":"v","type":"quantitative"}}},
  {"data":{"name":"fit"},
   "mark":{"type":"line","interpolate":"monotone","strokeWidth":1.3},
   "encoding":{"x":{"field":"w","type":"quantitative"},"y":{"field":"v","type":"quantitative"},"detail":{"field":"T"},
    "stroke":{"datum":"Fit","type":"nominal","scale":{"domain":["Fit"],"range":["#800000"]},
     "legend":{"title":null,"orient":"none","legendX":19,"legendY":220,"symbolType":"stroke","symbolSize":1296,"symbolStrokeWidth":1.5,"labelOffset":5}}}}
 ]
}
]
}
